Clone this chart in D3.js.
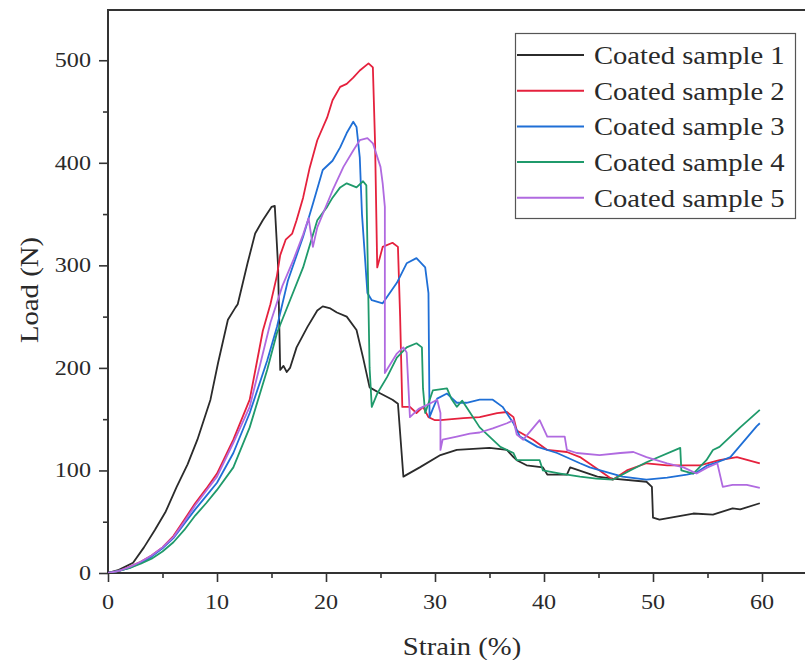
<!DOCTYPE html>
<html>
<head>
<meta charset="utf-8">
<title>Load vs strain</title>
<script src="https://cdn.jsdelivr.net/npm/d3@7"></script>
<style>
  body { margin: 0; background: #fff; }
  svg { display: block; }
  text { font-family: "Liberation Serif", "Times New Roman", serif; fill: #2a2a2a; }
</style>
</head>
<body>
<script>
// --- data (strain %, load N) ---
var seriesNames = ["Coated sample 1", "Coated sample 2", "Coated sample 3", "Coated sample 4", "Coated sample 5"];
var seriesColors = ["#2b2b2b", "#e5213d", "#1f6fd6", "#1f9a6b", "#b06ae0"];

var sample1 = [[0,0],[1,3],[2.3,10],[3.3,25],[4.3,42],[5.3,60],[6.3,84],[7.3,106],[8.2,130],[9.4,169],[10.1,205],
  [11,247],[11.7,259],[11.9,262],[12.8,302],[13.5,331],[14.2,344],[15,357],[15.3,358],[15.6,300],[15.8,198],[16.1,202],
  [16.4,196],[16.7,200],[17.3,220],[18.3,240],[19.2,256],[19.7,260],[20.4,258],[21,254],[21.9,250],[22.8,237],[23.4,210],
  [24,181],[25,175],[26.1,169],[26.6,165],[27.1,94],[28.6,103],[30.5,115],[32,120],[35,122],[36.6,120],[37.2,113],
  [37.5,110],[38.4,105],[39.9,103],[40.3,96],[42.1,96],[42.4,103],[44.9,94],[46.3,92],[49.4,89],[49.9,84],[50,54],
  [50.6,52],[53.7,58],[55.5,57],[57.3,63],[58,62],[59.8,68]];

var sample2 = [[0,0],[1,2],[2,6],[3,11],[4,17],[5,25],[6,36],[7,52],[8,68],[9,82],[10,97],[11.5,130],[13,169],[14.2,236],
  [14.9,262],[15.5,290],[15.8,310],[16.3,325],[16.9,331],[17.3,344],[17.9,366],[18.5,395],[19.2,422],[20.1,444],[20.6,461],
  [21.3,474],[21.9,477],[22.5,483],[23.1,490],[23.9,497],[24.3,493],[24.5,420],[24.7,298],[25.2,318],[26.1,322],[26.6,318],
  [26.8,250],[27,162],[27.7,162],[28.3,156],[28.9,162],[29.4,152],[30,149],[30.5,149],[32.6,151],[34.1,152],[35.7,156],
  [36.6,157],[37.2,152],[37.5,139],[39,130],[40.3,120],[42.1,118],[43.3,113],[45.1,100],[46.3,91],[47.6,100],[49.4,107],
  [51.3,105],[54.3,105],[56.1,110],[57.7,113],[59.8,107]];

var sample3 = [[0,0],[1,2],[2,5],[3,10],[4,16],[5,24],[6,34],[7,48],[8,62],[9,75],[10,88],[11.5,117],[13,156],[14.6,207],
  [15.5,240],[16.5,285],[17.9,328],[18.8,360],[19.7,393],[20.6,402],[21.3,415],[21.9,429],[22.5,440],[22.8,435],[23.1,405],
  [23.3,350],[23.8,273],[24.2,266],[25.2,263],[26.5,283],[27.4,302],[28.3,307],[29.1,298],[29.4,273],[29.5,152],[29.8,160],
  [30.2,170],[31.1,175],[32,166],[32.9,166],[34.1,169],[35.3,169],[36.2,162],[37.2,146],[37.8,133],[39.4,123],[41.2,117],
  [43.3,107],[44.2,103],[47.2,94],[49.4,91],[51.3,93],[53.1,96],[54,98],[55,105],[55.9,108],[57.1,113],[59.5,143],[59.8,146]];

var sample4 = [[0,0],[1,2],[2,5],[3,9],[4,14],[5,21],[6,30],[7,42],[8,56],[9,68],[10,81],[11.5,103],[13,142],[14.6,198],
  [15.5,234],[16.7,266],[17.9,298],[19.2,344],[20.1,357],[20.6,366],[21.3,376],[21.9,380],[22.8,376],[23.4,382],[23.7,378],
  [24,200],[24.2,162],[24.7,175],[25.6,191],[26.5,210],[27.4,220],[28.3,224],[28.8,220],[28.9,180],[29.1,156],[29.8,178],
  [31.1,180],[31.5,170],[32,162],[32.5,168],[33,160],[34.1,142],[35,133],[36,123],[37.2,117],[37.5,110],[39.6,110],[39.9,100],
  [41.5,97],[43.3,94],[44.8,92],[46.3,91],[47.9,100],[49.4,108],[52.5,122],[52.6,100],[53.7,97],[54.9,110],[55.5,120],
  [56.1,123],[58,142],[59.8,159]];

var sample5 = [[0,0],[1,2],[2,6],[3,11],[4,17],[5,25],[6,35],[7,50],[8,66],[9,80],[10,94],[11.5,127],[13,162],[14.9,244],
  [16,280],[17,305],[17.9,330],[18.4,346],[18.8,318],[19.2,337],[20.6,373],[21.6,396],[22.5,412],[23.1,422],[23.8,424],
  [24.3,419],[25,396],[25.2,380],[25.4,357],[25.4,195],[26.5,214],[27.1,220],[27.4,215],[27.7,152],[28.5,160],[29.5,165],
  [30.2,169],[30.5,156],[30.5,120],[30.7,130],[32,133],[33.2,136],[34.1,137],[35.3,141],[36.6,146],[37.2,149],[37.5,135],
  [38.1,130],[39.6,149],[40.3,133],[41.9,133],[42.1,120],[43,117],[45.1,115],[47,117],[48.2,118],[49.4,113],[51.3,107],
  [52.8,103],[54,97],[55,103],[55.9,107],[56.4,84],[57.3,86],[58.6,86],[59.8,83]];

var samples = [sample1, sample2, sample3, sample4, sample5];

var xTicks = [0, 10, 20, 30, 40, 50, 60];
var xMinor = [5, 15, 25, 35, 45, 55];
var yTicks = [0, 100, 200, 300, 400, 500];
var yMinor = [50, 150, 250, 350, 450];

// --- layout ---
var w = 805, h = 660;
var plotLeft = 108, plotTop = 10, plotBottom = 573;

var x = d3.scaleLinear().domain([0, 64]).range([plotLeft, plotLeft + 64 * 10.9]);
var y = d3.scaleLinear().domain([0, 549]).range([plotBottom, plotTop]);

var svg = d3.select("body").append("svg")
  .attr("width", w)
  .attr("height", h);

svg.append("defs").append("clipPath").attr("id", "plot")
  .append("rect")
    .attr("x", plotLeft).attr("y", plotTop)
    .attr("width", w - plotLeft).attr("height", plotBottom - plotTop);

// stretched text helper (the reference type is a little wider than Times)
function label(g, txt, px, py, size, sx, anchor, rot) {
  var t = "translate(" + px + "," + py + ")" + (rot ? " rotate(" + rot + ")" : "") + " scale(" + sx + ",1)";
  return g.append("text")
    .attr("transform", t)
    .attr("font-size", size)
    .attr("text-anchor", anchor)
    .text(txt);
}

// --- axes ---
var axisColor = "#333";

svg.append("g")
  .attr("transform", "translate(0," + plotBottom + ")")
  .call(d3.axisBottom(x).tickValues(xTicks).tickSize(9).tickSizeOuter(0).tickFormat(""));
svg.append("g")
  .attr("transform", "translate(0," + plotBottom + ")")
  .call(d3.axisBottom(x).tickValues(xMinor).tickSize(5).tickSizeOuter(0).tickFormat(""));

svg.append("g")
  .attr("transform", "translate(" + plotLeft + ",0)")
  .call(d3.axisLeft(y).tickValues(yTicks).tickSize(9).tickSizeOuter(0).tickFormat(""));
svg.append("g")
  .attr("transform", "translate(" + plotLeft + ",0)")
  .call(d3.axisLeft(y).tickValues(yMinor).tickSize(5).tickSizeOuter(0).tickFormat(""));

svg.selectAll(".domain").remove();
svg.selectAll(".tick line").attr("stroke", axisColor).attr("stroke-width", 1.6);

// frame: top, left, bottom
svg.append("path")
  .attr("d", "M" + w + "," + plotTop + "H" + plotLeft + "V" + plotBottom + "H" + w)
  .attr("fill", "none")
  .attr("stroke", axisColor)
  .attr("stroke-width", 2);

var labels = svg.append("g");
xTicks.forEach(function (v) {
  label(labels, v, x(v), 609, 21, 1.15, "middle");
});
yTicks.forEach(function (v) {
  label(labels, v, 91, y(v) + 7, 21, 1.15, "end");
});

label(labels, "Strain (%)", 462, 655, 26, 1.1, "middle");
label(labels, "Load (N)", 38, 290, 25, 1.15, "middle", -90);

// --- curves ---
var line = d3.line()
  .x(function (d) { return x(d[0]); })
  .y(function (d) { return y(d[1]); });

var curves = svg.append("g").attr("clip-path", "url(#plot)");
samples.forEach(function (s, i) {
  curves.append("path")
    .attr("d", line(s))
    .attr("fill", "none")
    .attr("stroke", seriesColors[i])
    .attr("stroke-width", 1.8)
    .attr("stroke-linejoin", "round");
});

// --- legend ---
var legend = svg.append("g");
legend.append("rect")
  .attr("x", 515.5).attr("y", 33.5)
  .attr("width", 280).attr("height", 185)
  .attr("fill", "#fff")
  .attr("stroke", "#555")
  .attr("stroke-width", 1.2);

seriesNames.forEach(function (name, i) {
  var ly = 55 + i * 35.7;
  legend.append("line")
    .attr("x1", 517).attr("x2", 584)
    .attr("y1", ly).attr("y2", ly)
    .attr("stroke", seriesColors[i])
    .attr("stroke-width", 2);
  label(legend, name, 594, ly + 9, 26, 1.1, "start");
});
</script>
</body>
</html>
